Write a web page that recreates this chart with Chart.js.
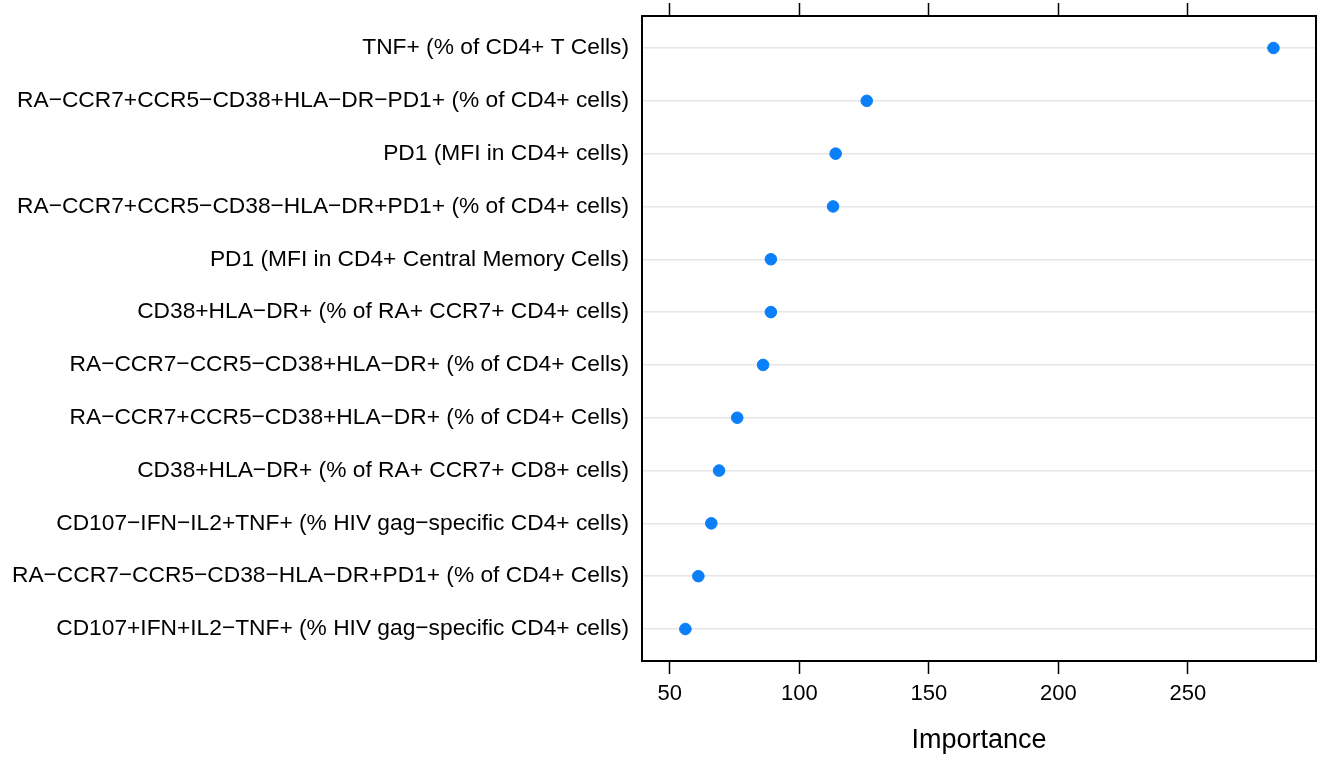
<!DOCTYPE html>
<html><head><meta charset="utf-8">
<script src="https://cdn.jsdelivr.net/npm/chart.js@4.4.1/dist/chart.umd.min.js"></script>
<style>html,body{margin:0;padding:0;background:#fff}#wrap{width:1323px;height:757px}</style>
</head><body><div id="wrap"><canvas id="c" width="1323" height="757"></canvas></div>
<script>
const categories = [
  "TNF+ (% of CD4+ T Cells)",
  "RA\u2212CCR7+CCR5\u2212CD38+HLA\u2212DR\u2212PD1+ (% of CD4+ cells)",
  "PD1 (MFI in CD4+ cells)",
  "RA\u2212CCR7+CCR5\u2212CD38\u2212HLA\u2212DR+PD1+ (% of CD4+ cells)",
  "PD1 (MFI in CD4+ Central Memory Cells)",
  "CD38+HLA\u2212DR+ (% of RA+ CCR7+ CD4+ cells)",
  "RA\u2212CCR7\u2212CCR5\u2212CD38+HLA\u2212DR+ (% of CD4+ Cells)",
  "RA\u2212CCR7+CCR5\u2212CD38+HLA\u2212DR+ (% of CD4+ Cells)",
  "CD38+HLA\u2212DR+ (% of RA+ CCR7+ CD8+ cells)",
  "CD107\u2212IFN\u2212IL2+TNF+ (% HIV gag\u2212specific CD4+ cells)",
  "RA\u2212CCR7\u2212CCR5\u2212CD38\u2212HLA\u2212DR+PD1+ (% of CD4+ Cells)",
  "CD107+IFN+IL2\u2212TNF+ (% HIV gag\u2212specific CD4+ cells)"
];
const importance = [283, 126, 114, 113, 89, 89, 86, 76, 69, 66, 61, 56];
const xTicks = [50, 100, 150, 200, 250];
const xTitle = "Importance";

const FONT = "'Liberation Sans', Arial, Helvetica, sans-serif";
const pts = importance.map((v, i) => ({x: v, y: i + 1}));
const setXTicks = s => { s.ticks = xTicks.map(v => ({value: v})); };
const zeroPad = s => { s.paddingTop = 0; s.paddingBottom = 0; s.paddingLeft = 0; s.paddingRight = 0; };

new Chart(document.getElementById('c'), {
  type: 'scatter',
  data: { datasets: [{ data: pts, backgroundColor: '#0a7ff7', borderColor: '#0a7ff7', pointRadius: 5.8, pointHoverRadius: 5.8 }] },
  options: {
    responsive: false, animation: false,
    layout: { padding: 0 },
    plugins: { legend: { display: false }, tooltip: { enabled: false } },
    scales: {
      x: {
        type: 'linear', position: 'bottom', min: 39.25, max: 299.5,
        afterBuildTicks: setXTicks,
        afterFit: s => { s.height = 96; zeroPad(s); },
        grid: { drawOnChartArea: false, drawTicks: true, tickLength: 13, tickColor: '#000', tickWidth: 1.5 },
        border: { display: true, color: '#000', width: 2 },
        ticks: { color: '#000', font: { family: FONT, size: 22 }, padding: 7, maxRotation: 0 },
        title: { display: true, text: xTitle, color: '#000', font: { family: FONT, size: 27 }, padding: { top: 14, bottom: 0 } }
      },
      x2: {
        type: 'linear', position: 'top', min: 39.25, max: 299.5,
        afterBuildTicks: setXTicks,
        afterFit: s => { s.height = 16; zeroPad(s); },
        grid: { drawOnChartArea: false, drawTicks: true, tickLength: 13, tickColor: '#000', tickWidth: 1.5 },
        border: { display: true, color: '#000', width: 2 },
        ticks: { display: false }
      },
      y: {
        type: 'linear', position: 'left', min: 0.394, max: 12.606, reverse: true,
        afterBuildTicks: s => { s.ticks = categories.map((c, i) => ({value: i + 1})); },
        afterFit: s => { s.width = 642; zeroPad(s); },
        grid: { color: '#e6e6e6', lineWidth: 1.5, drawTicks: false },
        border: { display: true, color: '#000', width: 2 },
        ticks: { color: '#000', font: { family: FONT, size: 22.75 }, padding: 13, autoSkip: false,
                 callback: v => categories[Math.round(v) - 1] }
      },
      y2: {
        type: 'linear', position: 'right', min: 0.394, max: 12.606,
        afterBuildTicks: s => { s.ticks = []; },
        afterFit: s => { s.width = 6; zeroPad(s); },
        grid: { drawOnChartArea: false, drawTicks: false },
        border: { display: true, color: '#000', width: 2 },
        ticks: { display: false }
      }
    }
  }
});
</script></body></html>
